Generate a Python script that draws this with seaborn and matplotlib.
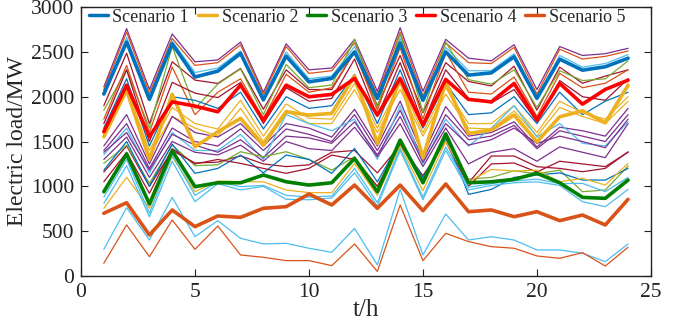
import numpy as np
import pandas as pd
import matplotlib
matplotlib.use("Agg")
import matplotlib.pyplot as plt
import seaborn as sns

hours = list(range(1, 25))

# Highlighted scenarios (MW)
scenario_1 = [2030, 2610, 1970, 2590, 2220, 2285, 2483, 1965, 2453, 2166, 2204, 2500,
              1981, 2600, 1960, 2500, 2241, 2266, 2446, 1981, 2419, 2296, 2334, 2430]
scenario_2 = [1553, 2073, 1300, 2026, 1441, 1609, 1758, 1460, 1832, 1795, 1814, 2230,
              1479, 2204, 1320, 2166, 1590, 1628, 1795, 1497, 1776, 1843, 1709, 2129]
scenario_3 = [940, 1360, 803, 1397, 996, 1040, 1040, 1126, 1051, 1014, 1040, 1311,
              940, 1516, 1040, 1585, 1040, 1051, 1078, 1145, 1040, 877, 866, 1070]
scenario_4 = [1609, 2129, 1553, 1943, 1895, 1832, 2129, 1739, 2129, 1999, 2026, 2204,
              1795, 2204, 1683, 2193, 1970, 1943, 2148, 1739, 2148, 1917, 2081, 2185]
scenario_5 = [699, 817, 457, 736, 550, 669, 654, 755, 773, 914, 792, 1014,
              755, 1014, 728, 1026, 717, 736, 661, 717, 617, 680, 569, 855]

scenario_names = ["Scenario 1", "Scenario 2", "Scenario 3", "Scenario 4", "Scenario 5"]
main_series = [scenario_1, scenario_2, scenario_3, scenario_4, scenario_5]

# Other (thin) scenarios (MW)
thin_series = [
    [2110, 2760, 2080, 2700, 2390, 2410, 2610, 2050, 2590, 2300, 2320, 2640, 2060, 2770, 2060, 2640, 2430, 2400, 2580, 2080, 2560, 2460, 2480, 2540],
    [2080, 2720, 2040, 2650, 2350, 2380, 2580, 2020, 2560, 2260, 2290, 2600, 2020, 2720, 2010, 2600, 2380, 2370, 2550, 2030, 2530, 2420, 2450, 2510],
    [2050, 2660, 2000, 2620, 2270, 2320, 2510, 1990, 2500, 2200, 2230, 2560, 1990, 2650, 1980, 2550, 2290, 2290, 2480, 2000, 2460, 2330, 2370, 2470],
    [1900, 2486, 1700, 2390, 2185, 2148, 2315, 1860, 2300, 2080, 2080, 2500, 1900, 2460, 1820, 2380, 2170, 2120, 2340, 1850, 2330, 2150, 2230, 2300],
    [1850, 2300, 1650, 2560, 1870, 2140, 2310, 1800, 2360, 2100, 2130, 2640, 1880, 2700, 1830, 2610, 2190, 2140, 2300, 1880, 2290, 2180, 2200, 2400],
    [1750, 2350, 1600, 2330, 1800, 2050, 2200, 1750, 2250, 2050, 2100, 2500, 1850, 2550, 1750, 2500, 2050, 2030, 2220, 1780, 2260, 2100, 2150, 2300],
    [1700, 2300, 1500, 2160, 2040, 1990, 2160, 1700, 2100, 1950, 1980, 2420, 1780, 2380, 1700, 2300, 1980, 1930, 2080, 1720, 2180, 2000, 1960, 2200],
    [1650, 2200, 1450, 2000, 1960, 1870, 2050, 1640, 2000, 1870, 1900, 2250, 1700, 2300, 1650, 2150, 1800, 1820, 2000, 1700, 2050, 1800, 1950, 2050],
    [1620, 2100, 1400, 1880, 1700, 1640, 1960, 1560, 1920, 1760, 1750, 2150, 1650, 2150, 1600, 2100, 1700, 1700, 1900, 1600, 1950, 1820, 1750, 2000],
    [1580, 2050, 1350, 1780, 1650, 1560, 1870, 1500, 1850, 1700, 1700, 2080, 1600, 2080, 1560, 2030, 1650, 1640, 1840, 1560, 1880, 1780, 1700, 1950],
    [1450, 1800, 1250, 1780, 1600, 1550, 1700, 1450, 1700, 1650, 1550, 1860, 1450, 1950, 1350, 1890, 1560, 1600, 1720, 1440, 1660, 1620, 1560, 1870],
    [1400, 1700, 1200, 1650, 1500, 1450, 1640, 1400, 1640, 1580, 1500, 1800, 1400, 1850, 1300, 1800, 1520, 1560, 1680, 1420, 1620, 1560, 1500, 1800],
    [1350, 1650, 1150, 1600, 1400, 1400, 1580, 1300, 1800, 1700, 1620, 1750, 1300, 1900, 1250, 1750, 1450, 1650, 1900, 1550, 1700, 1480, 1450, 1720],
    [1380, 1600, 1180, 1580, 1460, 1380, 1520, 1320, 1560, 1540, 1480, 1720, 1350, 1780, 1270, 1700, 1460, 1520, 1650, 1480, 1560, 1500, 1430, 1750],
    [1300, 1550, 1100, 1500, 1380, 1350, 1460, 1280, 1500, 1420, 1400, 1660, 1330, 1700, 1220, 1650, 1250, 1380, 1420, 1280, 1440, 1380, 1320, 1700],
    [1160, 1450, 1000, 1400, 1260, 1270, 1340, 1250, 1220, 1240, 1380, 1400, 1150, 1460, 1120, 1500, 1000, 1250, 1260, 1160, 1280, 1250, 1220, 1380],
    [1256, 1460, 1033, 1460, 1230, 1240, 1386, 1330, 1386, 1300, 1181, 1330, 1000, 1470, 1080, 1520, 1080, 1100, 1174, 1140, 1181, 940, 959, 1226],
    [1180, 1500, 1000, 1470, 1145, 1200, 1349, 1150, 1349, 1300, 1145, 1423, 1050, 1500, 1100, 1540, 910, 966, 1100, 1126, 1150, 1070, 1070, 1200],
    [1051, 1380, 922, 1420, 1250, 1300, 1256, 1200, 1145, 1200, 1349, 1300, 1000, 1480, 1050, 1560, 1040, 1338, 1338, 1219, 1200, 1163, 1200, 1386],
    [755, 1100, 755, 1330, 940, 1060, 1051, 1050, 959, 930, 929, 1256, 900, 1450, 950, 1500, 1051, 1189, 1170, 1181, 1050, 1089, 1014, 1256],
    [810, 1230, 660, 1280, 829, 1030, 960, 1000, 855, 850, 870, 1150, 780, 1400, 850, 1400, 960, 1010, 1040, 1050, 1010, 829, 773, 966],
    [880, 1300, 700, 1350, 900, 1050, 996, 1010, 900, 880, 892, 1200, 820, 1420, 880, 1440, 990, 1030, 1060, 1080, 1030, 1033, 940, 1100],
    [297, 762, 401, 877, 438, 617, 420, 357, 364, 309, 264, 531, 123, 966, 234, 691, 401, 438, 401, 290, 290, 253, 160, 357],
    [141, 569, 215, 624, 297, 557, 234, 208, 171, 171, 115, 357, 50, 792, 171, 476, 383, 327, 309, 223, 197, 260, 111, 320],
]

thin_colors = ["#7E2F8E", "#D95319", "#4DBEEE", "#A2142F", "#77AC30", "#D95319",
               "#A2142F", "#0072BD", "#EDB120", "#EDB120", "#7E2F8E", "#7E2F8E",
               "#4DBEEE", "#7E2F8E", "#7E2F8E", "#A2142F", "#77AC30", "#0072BD",
               "#A2142F", "#EDB120", "#4DBEEE", "#4DBEEE", "#4DBEEE", "#D95319"]
main_colors = ["#0072BD", "#EDB120", "#008000", "#FF0000", "#D95319"]

sns.set_style("ticks")
plt.rcParams["font.family"] = ["Liberation Serif", "DejaVu Serif"]

fig = plt.figure(figsize=(6.78, 3.22), dpi=100)
ax = fig.add_axes([0.1195, 0.143, 0.8405, 0.835])

for vals, c in zip(thin_series, thin_colors):
    sns.lineplot(x=hours, y=vals, color=c, linewidth=0.9, ax=ax, legend=False)

for vals, c, name in zip(main_series, main_colors, scenario_names):
    sns.lineplot(x=hours, y=vals, color=c, linewidth=2.6, ax=ax, label=name)

ax.set_xlim(0, 25)
ax.set_ylim(0, 3000)
ax.set_xticks([0, 5, 10, 15, 20, 25])
ax.set_yticks([0, 500, 1000, 1500, 2000, 2500, 3000])
ax.tick_params(direction="in", top=True, right=True, length=5, width=0.8,
               labelsize=15.5, colors="#222222", pad=5)
for s in ax.spines.values():
    s.set_linewidth(1.0)
    s.set_color("#222222")
ax.set_xlabel("t/h", fontsize=18, labelpad=-2)
ax.set_ylabel("Electric load/MW", fontsize=17, labelpad=2)

leg = ax.legend(loc="upper left", ncol=5, frameon=False, fontsize=13,
                bbox_to_anchor=(-0.005, 1.035), handlelength=1.05,
                handletextpad=0.25, columnspacing=0.5, borderaxespad=0.2)
for h in leg.get_lines():
    h.set_linewidth(2.5)

fig.savefig("out.png", dpi=100)
